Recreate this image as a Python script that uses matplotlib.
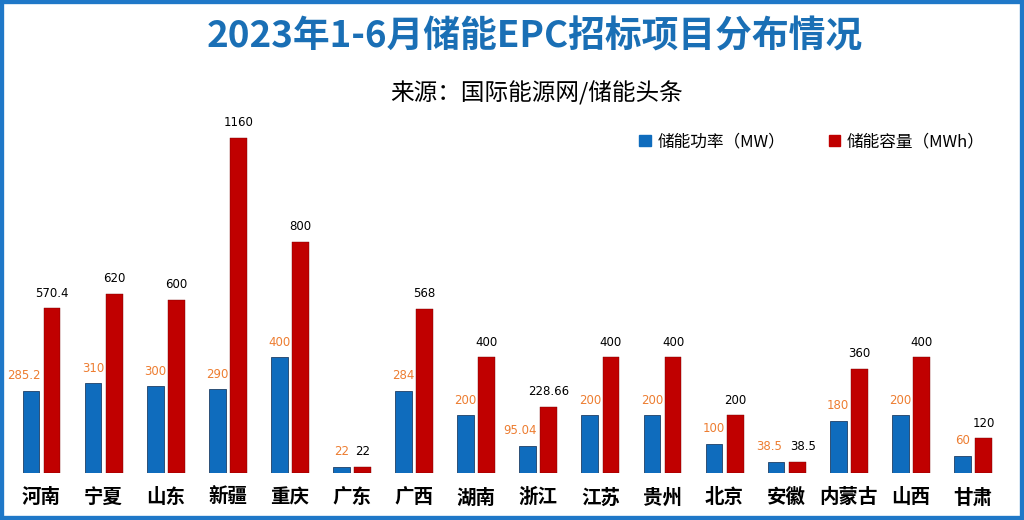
import matplotlib
matplotlib.use("Agg")
import matplotlib.pyplot as plt
import numpy as np
from matplotlib.patches import Rectangle, Patch

plt.rcParams['font.family'] = ['Noto Sans CJK SC', 'DejaVu Sans']

regions = ["河南", "宁夏", "山东", "新疆", "重庆", "广东", "广西", "湖南", "浙江",
           "江苏", "贵州", "北京", "安徽", "内蒙古", "山西", "甘肃"]
power_mw = [285.2, 310, 300, 290, 400, 22, 284, 200, 95.04, 200, 200, 100, 38.5, 180, 200, 60]
capacity_mwh = [570.4, 620, 600, 1160, 800, 22, 568, 400, 228.66, 400, 400, 200, 38.5, 360, 400, 120]
power_labels = ["285.2", "310", "300", "290", "400", "22", "284", "200", "95.04", "200",
                "200", "100", "38.5", "180", "200", "60"]
capacity_labels = ["570.4", "620", "600", "1160", "800", "22", "568", "400", "228.66", "400",
                   "400", "200", "38.5", "360", "400", "120"]

blue = "#0f6cbd"
red = "#c00000"
orange = "#ed7d31"

fig = plt.figure(figsize=(10.24, 5.2), dpi=100)
W, H = 1024, 520
left_px, right_px = 10.5, 1004
bottom_px, top_px = 473, 100
ax = fig.add_axes([left_px / W, (H - bottom_px) / H, (right_px - left_px) / W, (bottom_px - top_px) / H])

x = np.arange(len(regions))
bw = 0.27
off = 0.17
ax.bar(x - off, power_mw, bw, color=blue, edgecolor="#1f3f66", linewidth=0.6)
ax.bar(x + off, capacity_mwh, bw, color=red, edgecolor="#7a0000", linewidth=0.3)

for xi, v, s, v2 in zip(x, power_mw, power_labels, capacity_mwh):
    shift = -0.12 if len(s) > 3 else 0.0
    ax.text(xi - off + shift, v + 30, s, ha="center", va="bottom", fontsize=8.5, color=orange,
            family="DejaVu Sans")
for xi, v, s, v1 in zip(x, capacity_mwh, capacity_labels, power_mw):
    shift = 0.1 if (len(s) > 3 and abs(v - v1) < 60) else 0.0
    ax.text(xi + off + shift, v + 30, s, ha="center", va="bottom", fontsize=8.5, color="black",
            family="DejaVu Sans")

ax.set_xlim(-0.5, len(regions) - 0.5)
ax.set_ylim(0, 1291.5)
ax.set_xticks(x)
ax.set_xticklabels(regions, fontsize=14, fontweight="bold")
ax.tick_params(axis="x", length=0, pad=11)
ax.set_yticks([])
for sp in ax.spines.values():
    sp.set_visible(False)

fig.text(535 / W, 1 - 37 / H, "2023年1-6月储能EPC招标项目分布情况", ha="center", va="center",
         fontsize=26.5, fontweight="bold", color="#1a6fb5")
fig.text(537 / W, 1 - 93 / H, "来源：国际能源网/储能头条", ha="center", va="center",
         fontsize=17, color="black")

handles = [Patch(facecolor=blue, edgecolor=blue), Patch(facecolor=red, edgecolor=red)]
fig.legend(handles, ["储能功率（MW）", "储能容量（MWh）"], loc="center",
           bbox_to_anchor=(812 / W, 1 - 142 / H), ncol=2, frameon=False, fontsize=12,
           handlelength=0.7, handleheight=0.7, handletextpad=0.4, columnspacing=2.6)

fig.patches.append(Rectangle((0, 0), 1, 1, transform=fig.transFigure, fill=False,
                             edgecolor="#1f78c8", linewidth=6, zorder=10))

fig.savefig("out.png", dpi=100)
